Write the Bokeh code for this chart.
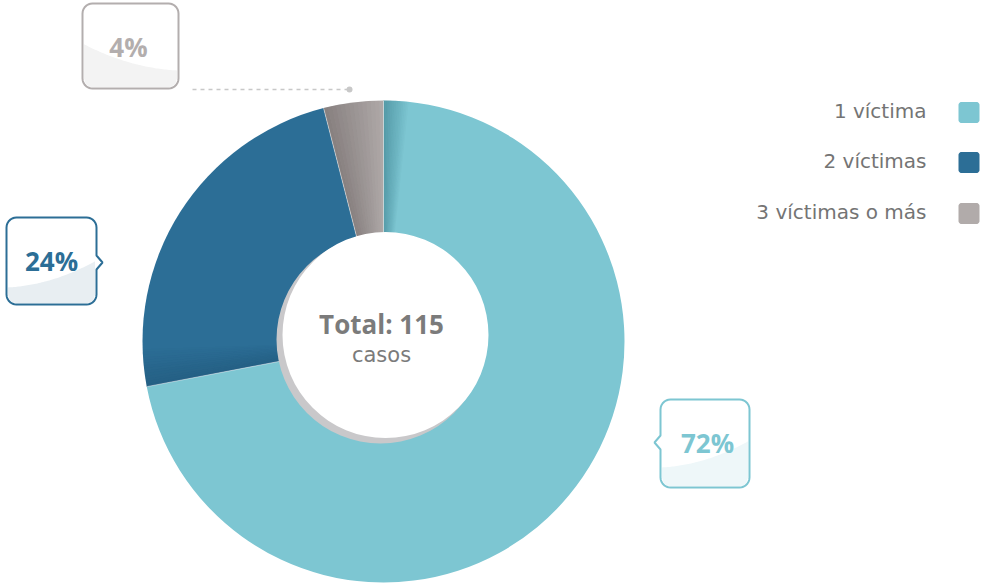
import numpy as np
from bokeh.plotting import figure
from bokeh.models import Range1d
from bokeh.embed import file_html
from bokeh.resources import INLINE
from bokeh.core.properties import value

# ---- data ----
categories = ["1 víctima", "2 víctimas", "3 víctimas o más"]
percentages = [72, 24, 4]
total_label = "Total: 115"
total_sub = "casos"

# ---- styles ----
colors = ["#7dc6d2", "#2c6e96", "#b1abaa"]
label_colors = ["#7dc6d2", "#2c6e96", "#b3aeae"]
shade_colors = ["#0a4a5a", "#0a2a40", "#2a2020"]
BOLD_FONT = "Open Sans"
FONT = "DejaVu Sans"

W, H = 984, 584
p = figure(width=W, height=H, x_range=Range1d(0, W), y_range=Range1d(0, H),
           output_backend="svg", toolbar_location=None, min_border=0,
           x_axis_location=None, y_axis_location=None)
p.grid.visible = False
p.outline_line_color = None
p.background_fill_color = "white"


def sy(y):
    return 584 - np.asarray(y, dtype=float)


cx, cy, R = 383, 341, 241

# ---- donut slices ----
cum = np.concatenate([[0], np.cumsum(percentages)[:-1]])
starts = np.deg2rad(90 - cum * 3.6)
ends = np.deg2rad(90 - (cum + np.array(percentages)) * 3.6)
p.wedge(x=[cx] * 3, y=[float(sy(cy))] * 3, radius=R, start_angle=starts, end_angle=ends,
        direction="clock", fill_color=colors, line_color=None)

# subtle shading near the start of each slice
shade_span = [np.deg2rad(6), np.deg2rad(9), np.deg2rad(14.4)]
shade_alpha = [0.35, 0.2, 0.3]
for s, span, a0, sc in zip(starts, shade_span, shade_alpha, shade_colors):
    n = 14
    step = span / n
    sa = [s - k * step for k in range(n)]
    ea = [s - (k + 1) * step for k in range(n)]
    al = [a0 * (1 - k / n) for k in range(n)]
    p.wedge(x=[cx] * n, y=[float(sy(cy))] * n, radius=R, start_angle=sa, end_angle=ea,
            direction="clock", fill_color=sc, fill_alpha=al, line_color=None)

# light edge lines at slice boundaries
p.segment(x0=[cx] * 3, y0=[float(sy(cy))] * 3,
          x1=list(cx + (R - 0.5) * np.cos(starts)), y1=list(float(sy(cy)) + (R - 0.5) * np.sin(starts)),
          line_color="white", line_alpha=0.45, line_width=1)

# center circle with shadow
p.circle(x=[380], y=[float(sy(339))], radius=104, fill_color="#c9c8ca", line_color=None)
p.circle(x=[385], y=[float(sy(334.5))], radius=103, fill_color="white", line_color=None)

p.text(x=[381], y=[float(sy(323))], text=[total_label], text_font=value(BOLD_FONT),
       text_font_size="26px", text_font_style="bold", text_color="#7b7b7b",
       text_align="center", text_baseline="middle")
p.text(x=[381], y=[float(sy(354))], text=[total_sub], text_font=value(FONT),
       text_font_size="21px", text_color="#7b7b7b",
       text_align="center", text_baseline="middle")


# ---- callout boxes ----
def rounded_box(x0, y0, x1, y1, r=10, pointer=None, py=None, ph=7, pw=6):
    pts = []

    def arc(cxx, cyy, a_from, a_to):
        for t in np.linspace(a_from, a_to, 8):
            pts.append((cxx + r * np.cos(t), cyy + r * np.sin(t)))
    arc(x0 + r, y0 + r, np.pi, 1.5 * np.pi)
    arc(x1 - r, y0 + r, 1.5 * np.pi, 2 * np.pi)
    if pointer == "right":
        pts += [(x1, py - ph), (x1 + pw, py), (x1, py + ph)]
    arc(x1 - r, y1 - r, 0, 0.5 * np.pi)
    arc(x0 + r, y1 - r, 0.5 * np.pi, np.pi)
    if pointer == "left":
        pts += [(x0, py + ph), (x0 - pw, py), (x0, py - ph)]
    return [q[0] for q in pts], [q[1] for q in pts]


def bottom_fill(x0, y0, x1, y1, yl, yr, r=10):
    xs = np.linspace(x0 + 1.5, x1 - 1.5, 60)
    t = (xs - x0) / (x1 - x0)
    ctrl = (yr - 2) if yl < yr else (yl - 2)
    curve = (1 - t) ** 2 * yl + 2 * (1 - t) * t * ctrl + t ** 2 * yr
    bot = np.full_like(xs, y1 - 1.5)
    rr = r - 1.5
    left = xs < x0 + r
    bot[left] = (y1 - r) + np.sqrt(np.clip(rr ** 2 - (xs[left] - (x0 + r)) ** 2, 0, None))
    right = xs > x1 - r
    bot[right] = (y1 - r) + np.sqrt(np.clip(rr ** 2 - (xs[right] - (x1 - r)) ** 2, 0, None))
    curve = np.minimum(curve, bot)
    return list(xs) + list(xs[::-1]), list(curve) + list(bot[::-1])


boxes = [
    dict(x0=660, y0=399, x1=749, y1=487, pointer="left", py=442, yl=467, yr=440, tx=707, ty=442,
         fill="#eef7f9"),
    dict(x0=6, y0=217, x1=96, y1=304, pointer="right", py=262, yl=287, yr=260, tx=51, ty=260,
         fill="#e8eef2"),
    dict(x0=82, y0=3, x1=178, y1=88, pointer=None, py=None, yl=43, yr=70, tx=128, ty=46,
         fill="#f3f3f3"),
]

for i, b in enumerate(boxes):
    xs, ys = rounded_box(b["x0"], b["y0"], b["x1"], b["y1"], pointer=b["pointer"], py=b["py"])
    p.patch(xs, list(sy(ys)), fill_color="white", line_color=None)
    fx, fy = bottom_fill(b["x0"], b["y0"], b["x1"], b["y1"], b["yl"], b["yr"])
    p.patch(fx, list(sy(fy)), fill_color=b["fill"], line_color=None)
    p.patch(xs, list(sy(ys)), fill_color=None, line_color=label_colors[i], line_width=2)
    p.text(x=[b["tx"]], y=[float(sy(b["ty"]))], text=[f"{percentages[i]}%"],
           text_font=value(BOLD_FONT), text_font_size="26px", text_font_style="bold",
           text_color=label_colors[i], text_align="center", text_baseline="middle")

# dashed leader for the small slice
p.line(x=[192, 348], y=[float(sy(89))] * 2, line_color="#c8c8c8", line_width=1.3,
       line_dash="4 4")
p.scatter(x=[349], y=[float(sy(89))], size=6, fill_color="#c8c8c8", line_color=None)

# ---- legend ----
leg_y = [110, 160, 211]
for i, cat in enumerate(categories):
    xs, ys = rounded_box(958, leg_y[i] - 8.5, 979, leg_y[i] + 12.5, r=3)
    p.patch(xs, list(sy(ys)), fill_color=colors[i], line_color=None)
    p.text(x=[926], y=[float(sy(leg_y[i]))], text=[cat], text_font=value(FONT),
           text_font_size="20px", text_color="#747474", text_align="right",
           text_baseline="middle")

open("out.html", "w").write(file_html(p, INLINE))
